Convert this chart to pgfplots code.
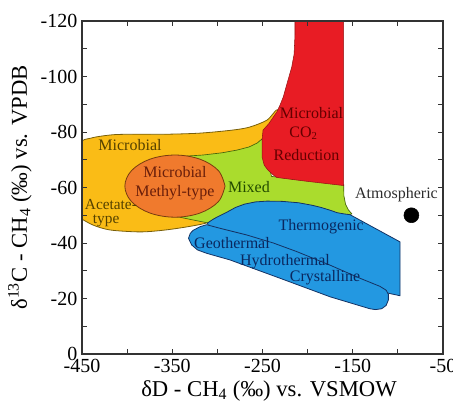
\documentclass[border=0pt]{standalone}
\usepackage{fontspec}
\setmainfont{Liberation Serif}
\usepackage{pgfplots}
\pgfplotsset{compat=1.18}
\definecolor{yfill}{RGB}{250,188,22}
\definecolor{gfill}{RGB}{170,220,45}
\definecolor{rfill}{RGB}{232,28,36}
\definecolor{ofill}{RGB}{240,122,45}
\definecolor{bfill}{RGB}{35,152,225}
\definecolor{yline}{RGB}{120,95,10}
\definecolor{gline}{RGB}{70,100,10}
\definecolor{rline}{RGB}{150,20,20}
\definecolor{oline}{RGB}{120,60,15}
\definecolor{bline}{RGB}{20,50,100}
\definecolor{ytext}{RGB}{85,65,0}
\definecolor{otext}{RGB}{105,30,10}
\definecolor{gtext}{RGB}{35,75,0}
\definecolor{rtext}{RGB}{100,0,0}
\definecolor{btext}{RGB}{10,40,95}
\definecolor{atext}{RGB}{45,45,45}
\tikzset{lab/.style={font=\fontsize{12}{14}\selectfont, anchor=center, inner sep=0pt}}
\begin{document}
\begin{tikzpicture}
\begin{axis}[
  name=ax,
  scale only axis,
  width=270.75pt, height=249.75pt,
  xmin=-450, xmax=-50,
  ymin=-120, ymax=0,
  y dir=reverse,
  xtick={-450,-350,-250,-150,-50},
  xticklabels={-450,-350,-250,-150,-50},
  ytick={-120,-100,-80,-60,-40,-20,0},
  yticklabels={-120,-100,-80,-60,-40,-20,0},
  minor xtick={-400,-300,-200,-100},
  minor ytick={-110,-90,-70,-50,-30,-10},
  major tick length=4pt, minor tick length=4pt,
  tick style={black!80, line width=0.6pt},
  axis line style={black!80, line width=0.8pt},
  axis on top,
  ticklabel style={font=\fontsize{15}{18}\selectfont},
  xlabel={δD - CH\textsubscript{4} (‰) vs. VSMOW},
  ylabel={δ\textsuperscript{13}C - CH\textsubscript{4} (‰) vs. VPDB},
  label style={font=\fontsize{17}{20}\selectfont},
  xlabel style={at={(axis description cs:0.518,-0.127)}, anchor=base},
  ylabel style={at={(axis description cs:-0.172,0.5)}, anchor=center},
]
% yellow: microbial acetate-type
\addplot[fill=yfill, draw=yline, line width=0.6pt, smooth, tension=0.5] coordinates {
 (-452,-49) (-452,-62) (-452,-75.5) (-440,-77.8) (-416,-79) (-390,-79.2)
 (-356,-79.2) (-319,-79.6) (-283,-80.7) (-264,-81.8) (-245,-84.3) (-233,-88)
 (-238,-78) (-260,-62) (-290,-50) (-311,-47.3) (-334,-45.8) (-360,-44.6)
 (-386,-44) (-419,-44.7) (-438,-46.5) (-452,-49)} -- cycle;
% green: mixed
\addplot[fill=gfill, draw=gline, line width=0.5pt] coordinates {
 (-250.5,-77.5) (-256,-76) (-265,-74.6) (-278,-73.5) (-295,-72.5) (-316,-71.7)
 (-340,-71.2) (-352,-60) (-352,-50) (-330,-48.5) (-310,-47.2) (-290,-48.5)
 (-250,-48) (-170,-48) (-151,-50.5) (-155,-52) (-158,-54) (-159.8,-57)
 (-160,-61) (-240,-64)} -- cycle;
% red: CO2 reduction
\addplot[fill=rfill, draw=rline, line width=0.4pt] coordinates {
 (-214,-125) (-214,-115) (-215,-108) (-217.6,-103.4) (-222.7,-97.6) (-227,-92.6)
 (-230.6,-89.7) (-234,-87.3) (-243,-83) (-249.4,-80.7) (-250.5,-77) (-250.5,-71)
 (-248,-68) (-244,-66.3) (-238,-64.5) (-234,-63.6) (-200,-62.2) (-160,-60.7)
 (-160,-125)} -- cycle;
% orange ellipse: methyl-type
\addplot[fill=ofill, draw=oline, line width=0.6pt, smooth, tension=0.6] coordinates {
 (-291.5,-60.5) (-298.9,-66.1) (-319.25,-70.2) (-347,-71.7) (-374.75,-70.2)
 (-395.1,-66.1) (-402.5,-60.5) (-395.1,-54.9) (-374.75,-50.8) (-347,-49.3)
 (-319.25,-50.8) (-298.9,-54.9) (-291.5,-60.5)} -- cycle;
% blue: thermogenic
\addplot[fill=bfill, draw=bline, line width=0.6pt] coordinates {
 (-311,-47.2) (-305,-48.5) (-300,-49.4) (-290,-51) (-280,-52.8) (-270,-54)
 (-258,-54.8) (-245,-55.1) (-228,-55) (-210,-54.5) (-195,-53.6) (-185,-52.8)
 (-175,-51.8) (-167,-50.9) (-160,-50.5) (-153,-50.2) (-97.6,-40.4) (-97.6,-21)
 (-112,-22) (-150,-24) (-250,-33) (-300,-40) (-308,-44)} -- cycle;
% blue: geothermal / hydrothermal / crystalline
\addplot[fill=bfill, draw=bline, line width=0.6pt] coordinates {
 (-319,-45.9) (-312,-46.6) (-297,-45.3) (-267.5,-42.9) (-238,-40) (-212,-36.9)
 (-175,-32) (-142,-27.3) (-120,-24.4) (-113,-23) (-110.5,-21.5) (-110.5,-19.5)
 (-113,-17.5) (-118,-16.3) (-125,-16.0) (-131,-16.3) (-175,-20.6) (-230.6,-27.3)
 (-286,-33.9) (-312,-36.3) (-322,-37.5) (-328.5,-39.3) (-332,-41.7) (-330,-43.5)
 (-326.7,-44.6)} -- cycle;
% atmospheric
\addplot[only marks, mark=*, mark size=5.6pt, black] coordinates {(-85,-50)};
% labels
\node[lab, text=ytext] at (axis cs:-396.8,-75.3) {Microbial};
\node[lab, text=ytext, anchor=west, align=left, font=\fontsize{11.5}{10}\selectfont]
  at (axis cs:-447,-50.8) {Acetate-\\\hspace*{6pt}type};
\node[lab, text=otext] at (axis cs:-347,-65.7) {Microbial};
\node[lab, text=otext] at (axis cs:-347,-58.3) {Methyl-type};
\node[lab, text=gtext] at (axis cs:-265,-60.1) {Mixed};
\node[lab, text=rtext] at (axis cs:-195.7,-86.7) {Microbial};
\node[lab, text=rtext] at (axis cs:-204.6,-79.5) {CO\textsubscript{2}};
\node[lab, text=rtext] at (axis cs:-201.2,-71.7) {Reduction};
\node[lab, text=atext] at (axis cs:-101.5,-57.3) {Atmospheric};
\node[lab, text=btext] at (axis cs:-185,-45.8) {Thermogenic};
\node[lab, text=btext] at (axis cs:-283.8,-40) {Geothermal};
\node[lab, text=btext] at (axis cs:-225,-33.2) {Hydrothermal};
\node[lab, text=btext] at (axis cs:-180.7,-27.4) {Crystalline};
\end{axis}
\pgfresetboundingbox
\path[use as bounding box] (ax.south west) ++(-61.5pt,-36.75pt) rectangle ++(339.75pt,302.25pt);
\end{tikzpicture}
\end{document}
